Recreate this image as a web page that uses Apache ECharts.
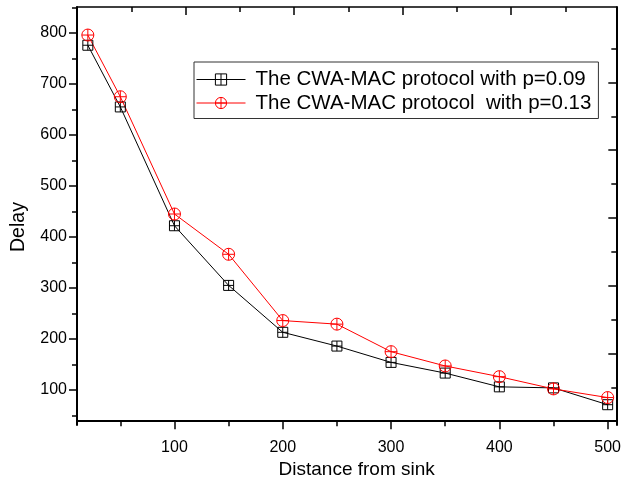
<!DOCTYPE html>
<html>
<head>
<meta charset="utf-8">
<script src="https://cdn.jsdelivr.net/npm/echarts@6/dist/echarts.min.js"></script>
<style>
html,body{margin:0;padding:0;background:#fff;}
#chart{width:624px;height:484px;}
</style>
</head>
<body>
<div id="chart"></div>
<script>
const distances = [20, 50, 100, 150, 200, 250, 300, 350, 400, 450, 500];
const delayP009 = [776, 655, 422, 305, 213, 186, 154, 133, 106, 104, 71];
const delayP013 = [796, 675, 445, 366, 236, 229, 175, 147, 126, 102, 85];
const seriesNames = ['The CWA-MAC protocol with p=0.09', 'The CWA-MAC protocol  with p=0.13'];
const xTickLabels = [100, 200, 300, 400, 500];
const xMinorTicks = [50, 150, 250, 350, 450];
const yTickLabels = [100, 200, 300, 400, 500, 600, 700, 800];
const yMinorTicks = [50, 150, 250, 350, 450, 550, 650, 750, 850];
const topMajorTicks = [0, 100, 200, 300, 400];
const topMinorTicks = [50, 150, 250, 350, 450];
const rightMajorTicks = [0, 100, 200, 300, 400, 500];
const rightMinorTicks = [50, 150, 250, 350, 450, 550];

const FONT = 'Liberation Sans, Arial, sans-serif';
const SQUARE = 'path://M0,0L10,0L10,10L0,10ZM5,0L5,10M0,5L10,5';
const CIRCLE = 'path://M0,5A5,5,0,1,1,10,5A5,5,0,1,1,0,5ZM5,0L5,10M0,5L10,5';

function pairs(xs, ys) { return xs.map((x, i) => [x, ys[i]]); }

function tickAxis(base, ticks, len, inside, lineShow, lineW) {
  return Object.assign({
    type: 'value',
    axisLine: { show: lineShow, lineStyle: { color: '#000', width: lineW } },
    axisTick: { show: true, inside: inside, length: len, customValues: ticks, lineStyle: { color: '#000', width: 1.5 } },
    axisLabel: { show: false },
    splitLine: { show: false }
  }, base);
}

const chart = echarts.init(document.getElementById('chart'), null, { renderer: 'canvas' });
chart.setOption({
  animation: false,
  backgroundColor: '#fff',
  textStyle: { fontFamily: FONT },
  grid: { left: 77, right: 3, top: 7, bottom: 50, containLabel: false },
  xAxis: [
    {
      type: 'value', position: 'bottom', min: 10, max: 508,
      axisLine: { show: true, lineStyle: { color: '#000', width: 2 } },
      axisTick: { show: true, inside: false, length: 8, customValues: xTickLabels, lineStyle: { color: '#000', width: 1.5 } },
      axisLabel: { show: true, customValues: xTickLabels, margin: 14, color: '#000', fontSize: 16, fontFamily: FONT },
      splitLine: { show: false },
      name: 'Distance from sink', nameLocation: 'middle', nameGap: 30,
      nameTextStyle: { color: '#000', fontSize: 19, fontFamily: FONT, padding: [0, 0, 0, 20] }
    },
    tickAxis({ position: 'bottom', min: 10, max: 508 }, xMinorTicks, 5, false, false, 2),
    tickAxis({ position: 'top', min: 0, max: 497 }, topMajorTicks, 8, true, true, 1.5),
    tickAxis({ position: 'top', min: 0, max: 497 }, topMinorTicks, 5, true, false, 1.5)
  ],
  yAxis: [
    {
      type: 'value', position: 'left', min: 31, max: 851,
      axisLine: { show: true, lineStyle: { color: '#000', width: 2 } },
      axisTick: { show: true, inside: false, length: 8, customValues: yTickLabels, lineStyle: { color: '#000', width: 1.5 } },
      axisLabel: { show: true, customValues: yTickLabels, margin: 10, color: '#000', fontSize: 16, fontFamily: FONT },
      splitLine: { show: false },
      name: 'Delay', nameLocation: 'middle', nameGap: 48,
      nameTextStyle: { color: '#000', fontSize: 19.5, fontFamily: FONT, padding: [0, 22, 0, 0] }
    },
    tickAxis({ position: 'left', min: 31, max: 851 }, yMinorTicks, 5, false, false, 2),
    tickAxis({ position: 'right', min: -5.8, max: 611.4 }, rightMajorTicks, 8, true, true, 2),
    tickAxis({ position: 'right', min: -5.8, max: 611.4 }, rightMinorTicks, 5, true, false, 2)
  ],
  legend: {
    orient: 'vertical', left: 194, top: 62,
    padding: [7, 7, 5, 2], itemGap: 2.5,
    itemWidth: 49, itemHeight: 14,
    borderColor: '#333', borderWidth: 1, backgroundColor: '#fff',
    lineStyle: { width: 1 },
    itemStyle: { borderWidth: 1 },
    textStyle: { color: '#000', fontSize: 20.5, lineHeight: 20, fontFamily: FONT, padding: [0, 0, 0, 5] },
    data: seriesNames
  },
  series: [
    {
      name: seriesNames[0], type: 'line', xAxisIndex: 0, yAxisIndex: 0,
      data: pairs(distances, delayP009),
      symbol: SQUARE, symbolSize: 10, showAllSymbol: true,
      lineStyle: { color: '#000', width: 1 },
      itemStyle: { color: 'rgba(0,0,0,0)', borderColor: '#000', borderWidth: 1 },
      emphasis: { disabled: true }
    },
    {
      name: seriesNames[1], type: 'line', xAxisIndex: 0, yAxisIndex: 0,
      data: pairs(distances, delayP013),
      symbol: CIRCLE, symbolSize: 12, showAllSymbol: true,
      lineStyle: { color: '#ff0000', width: 1 },
      itemStyle: { color: 'rgba(0,0,0,0)', borderColor: '#ff0000', borderWidth: 1 },
      emphasis: { disabled: true }
    }
  ]
});
</script>
</body>
</html>
